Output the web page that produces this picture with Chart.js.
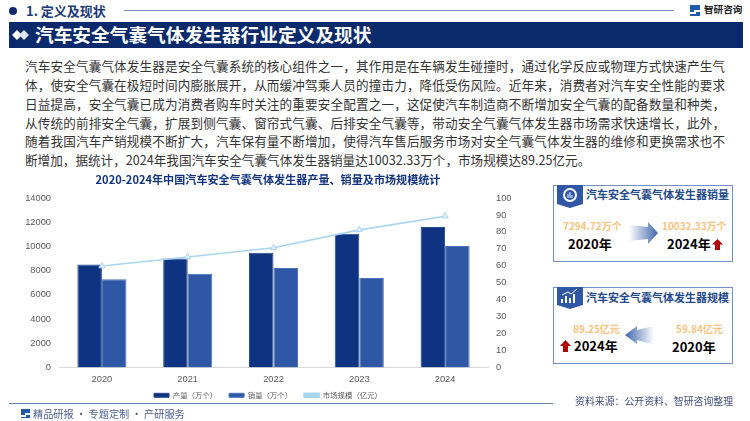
<!DOCTYPE html>
<html>
<head>
<meta charset="utf-8">
<script src="https://cdn.jsdelivr.net/npm/chart.js@4/dist/chart.umd.min.js"></script>
<style>
html, body { margin: 0; padding: 0; background: #fff; }
body { width: 750px; height: 421px; position: relative; overflow: hidden; font-family: "Noto Sans CJK SC", "Noto Sans", sans-serif; }
.a { position: absolute; white-space: nowrap; line-height: 1; }
.para div { position: absolute; left: 25px; width: 700px; height: 19px; line-height: 19px; font-size: 12.6px; color: #333; white-space: nowrap; text-align: justify; text-align-last: justify; }
.card { position: absolute; left: 553px; width: 178px; height: 75px; border: 1.5px solid #7290c8; box-sizing: content-box; }
.ct { font-size: 11px; font-weight: 700; color: #1f4a8c; }
.val { font-size: 10px; font-weight: 700; color: #f9c27f; }
.yr { font-size: 13px; font-weight: 700; color: #000; }
svg { position: absolute; }
#wrap { position: absolute; left: 0; top: 165px; width: 536px; height: 255px; }
</style>
</head>
<body>
<!-- cabecera -->
<svg style="left:8px;top:6px" width="10" height="10"><circle cx="5" cy="5" r="4" fill="#0b2a6b"/></svg>
<div class="a" style="left:26px;top:4px;font-size:13px;font-weight:700;color:#1c3a78">1. 定义及现状</div>
<div class="a" style="left:124px;top:10px;width:550px;height:1px;background:#7a8fc0"></div>
<svg style="left:689px;top:4px" width="12" height="13"><path d="M1 1h10v5H5v2H1zM7 8h4v4H1v-2h6z" fill="#1d5aa8"/></svg>
<div class="a" style="left:704px;top:5px;font-size:9.6px;font-weight:700;color:#222">智研咨询</div>

<div class="a" style="left:9px;top:22px;width:734px;height:26px;background:#0b2a6b"></div>
<svg style="left:12px;top:28px" width="18" height="14"><path d="M0 7l5-5 5 5-5 5z" fill="#fff"/><path d="M7 7l5-5 5 5-5 5z" fill="#dfe6f3"/></svg>
<div class="a" style="left:35px;top:25px;font-size:18.7px;font-weight:700;color:#fff">汽车安全气囊气体发生器行业定义及现状</div>

<div class="para">
<div style="top:56px">汽车安全气囊气体发生器是安全气囊系统的核心组件之一，其作用是在车辆发生碰撞时，通过化学反应或物理方式快速产生气</div>
<div style="top:75px">体，使安全气囊在极短时间内膨胀展开，从而缓冲驾乘人员的撞击力，降低受伤风险。近年来，消费者对汽车安全性能的要求</div>
<div style="top:94px">日益提高，安全气囊已成为消费者购车时关注的重要安全配置之一，这促使汽车制造商不断增加安全气囊的配备数量和种类，</div>
<div style="top:113px">从传统的前排安全气囊，扩展到侧气囊、窗帘式气囊、后排安全气囊等，带动安全气囊气体发生器市场需求快速增长，此外，</div>
<div style="top:131px">随着我国汽车产销规模不断扩大，汽车保有量不断增加，使得汽车售后服务市场对安全气囊气体发生器的维修和更换需求也不</div>
<div style="top:150px;text-align-last:left;width:auto">断增加，据统计，2024年我国汽车安全气囊气体发生器销量达10032.33万个，市场规模达89.25亿元。</div>
</div>

<div id="wrap"><canvas id="grafico"></canvas></div>

<!-- tarjeta ventas -->
<div class="card" style="top:185px"></div>
<svg style="left:557px;top:185px" width="26" height="24"><path d="M0 0h26v19l-13 4-13-4z" fill="#2f57a3"/><circle cx="13" cy="10" r="6" fill="none" stroke="#fff" stroke-width="2"/><path d="M11 13V9M13 13V7M15 13v-3" stroke="#fff"/></svg>
<div class="a ct" style="left:586px;top:189px">汽车安全气囊气体发生器销量</div>
<div class="a val" style="left:563px;top:221px">7294.72万个</div>
<div class="a yr" style="left:568px;top:237px">2020年</div>
<svg style="left:629px;top:222px" width="29" height="22"><defs><linearGradient id="g1"><stop offset="0" stop-color="#fff"/><stop offset="1" stop-color="#3f67ad"/></linearGradient></defs><path d="M0 3l19 2V0l10 11-10 11v-5L0 19z" fill="url(#g1)"/></svg>
<div class="a val" style="left:662px;top:221px">10032.33万个</div>
<div class="a yr" style="left:667px;top:237px">2024年</div>
<svg style="left:712px;top:239px" width="11" height="11"><path d="M5.500 0l5.500 5.500H8V11H3V5.500H0z" fill="#b00000"/></svg>

<!-- tarjeta mercado -->
<div class="card" style="top:287px"></div>
<svg style="left:557px;top:287px" width="26" height="23"><path d="M0 0h26v18l-13 4-13-4z" fill="#2f57a3"/><path d="M5 16v-4M9 16V9M13 16v-5M17 16V7" stroke="#fff" stroke-width="2"/><path d="M5 8l6-3 3 2 6-5" fill="none" stroke="#fff"/></svg>
<div class="a ct" style="left:586px;top:292px">汽车安全气囊气体发生器规模</div>
<div class="a val" style="left:573px;top:324px">89.25亿元</div>
<div class="a yr" style="left:574px;top:339px">2024年</div>
<svg style="left:560px;top:340px" width="11" height="12"><path d="M5.500 0l5.500 6H8v6H3V6H0z" fill="#b00000"/></svg>
<svg style="left:625px;top:326px" width="29" height="19"><defs><linearGradient id="g2" x1="1" x2="0"><stop offset="0" stop-color="#fff"/><stop offset="1" stop-color="#3f67ad"/></linearGradient></defs><path d="M29 0l-17 4V0L0 9l12 9v-4l17 5z" fill="url(#g2)"/></svg>
<div class="a val" style="left:676px;top:324px">59.84亿元</div>
<div class="a yr" style="left:672px;top:340px">2020年</div>

<!-- pie -->
<div class="a" style="left:9px;top:403px;width:544px;height:1px;background:#6a85bb"></div>
<svg style="left:21px;top:409px" width="9" height="10"><path d="M0 0h9v4H4v2H0zM5 6h4v3H0V8h5z" fill="#1d5aa8"/></svg>
<div class="a" style="left:33px;top:409px;font-size:10.2px;color:#4a5f8f">精品研报 · 专题定制 · 产研服务</div>
<div class="a" style="left:575px;top:397px;font-size:9.9px;color:#3f4f7f">资料来源：公开资料、智研咨询整理</div>

<script>
const anios = ['2020', '2021', '2022', '2023', '2024'];
const produccion = [8500, 9000, 9470, 11050, 11610];
const ventas = [7294.72, 7750, 8220, 7390, 10032.33];
const mercado = [59.84, 65.2, 70.6, 81.2, 89.25];

const tickFont = { family: '"Liberation Sans", "Noto Sans", sans-serif', size: 9.3 };

// la leyenda va mas pegada al eje que lo que deja Chart.js
const subirLeyenda = {
  id: 'subirLeyenda',
  afterLayout(chart) { chart.legend.top -= 11; }
};

new Chart(document.getElementById('grafico').getContext('2d'), {
  type: 'bar',
  plugins: [subirLeyenda],
  data: {
    labels: anios,
    datasets: [
      { label: '产量（万个）', data: produccion, yAxisID: 'y', order: 1,
        backgroundColor: '#0e3380', borderColor: '#234a94', borderWidth: 1 },
      { label: '销量（万个）', data: ventas, yAxisID: 'y', order: 2,
        backgroundColor: '#2e58a5', borderColor: '#4a72b8', borderWidth: 1 },
      { label: '市场规模（亿元）', type: 'line', data: mercado, yAxisID: 'y1', order: 0,
        borderColor: '#a9d5f1', backgroundColor: '#a9d5f1', borderWidth: 1.6, tension: 0,
        pointStyle: 'triangle', pointRadius: 3.5, pointBackgroundColor: '#e4f2fb', pointBorderColor: '#a9d5f1', pointBorderWidth: 1 }
    ]
  },
  options: {
    responsive: true,
    maintainAspectRatio: false,
    animation: false,
    datasets: { bar: { barPercentage: 1, categoryPercentage: 0.572 } },
    layout: { padding: 0 },
    plugins: {
      title: {
        display: true,
        text: '2020-2024年中国汽车安全气囊气体发生器产量、销量及市场规模统计',
        color: '#123480',
        font: { family: '"Noto Sans CJK SC"', size: 11.1, weight: 'bold' },
        padding: { top: 8, bottom: 11.7 }
      },
      legend: {
        position: 'bottom',
        labels: {
          color: '#595959',
          boxWidth: 15,
          boxHeight: 4,
          padding: 12,
          font: { family: '"Noto Sans CJK SC"', size: 7.4 },
          sort: (a, b) => a.datasetIndex - b.datasetIndex
        }
      },
      tooltip: { enabled: false }
    },
    scales: {
      x: {
        grid: { display: false, drawTicks: false },
        border: { color: '#d9d9d9' },
        ticks: { color: '#595959', font: tickFont, padding: 6 }
      },
      y: {
        min: 0, max: 14000,
        afterFit: s => { s.width = 59; },
        grid: { display: false, drawTicks: false },
        border: { display: false },
        ticks: { stepSize: 2000, color: '#595959', font: tickFont, padding: 8, callback: v => v }
      },
      y1: {
        position: 'right',
        min: 0, max: 100,
        afterFit: s => { s.width = 48; },
        grid: { display: false, drawTicks: false },
        border: { display: false },
        ticks: { stepSize: 10, autoSkip: false, color: '#595959', font: tickFont, padding: 8 }
      }
    }
  }
});
</script>
</body>
</html>
